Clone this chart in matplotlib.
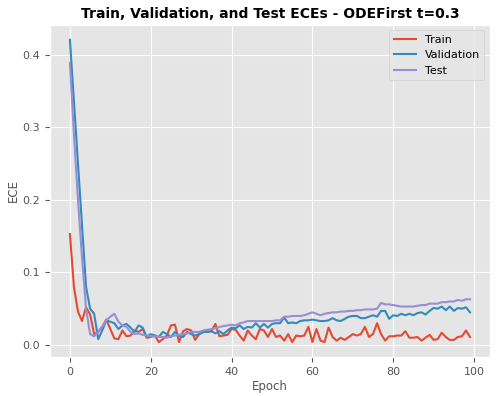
import numpy as np
import matplotlib
matplotlib.use('Agg')
from matplotlib import pyplot as plt

plt.style.use('ggplot')

epochs = np.arange(100)

train_ece = [
    0.153, 0.080, 0.046, 0.033, 0.052, 0.042, 0.015, 0.018, 0.025, 0.035,
    0.022, 0.009, 0.008, 0.020, 0.012, 0.013, 0.020, 0.018, 0.022, 0.010,
    0.011, 0.013, 0.004, 0.008, 0.013, 0.027, 0.028, 0.004, 0.019, 0.022,
    0.020, 0.007, 0.015, 0.018, 0.018, 0.019, 0.029, 0.012, 0.013, 0.014,
    0.022, 0.021, 0.013, 0.006, 0.020, 0.013, 0.008, 0.022, 0.020, 0.011,
    0.022, 0.011, 0.013, 0.006, 0.015, 0.004, 0.013, 0.012, 0.013, 0.025,
    0.004, 0.022, 0.006, 0.004, 0.024, 0.011, 0.006, 0.010, 0.007, 0.011,
    0.015, 0.013, 0.015, 0.025, 0.011, 0.015, 0.030, 0.015, 0.006, 0.012,
    0.012, 0.013, 0.013, 0.019, 0.010, 0.010, 0.011, 0.006, 0.010, 0.014,
    0.007, 0.008, 0.017, 0.011, 0.007, 0.007, 0.011, 0.012, 0.020, 0.011,
]

val_ece = [
    0.421, 0.336, 0.250, 0.165, 0.080, 0.050, 0.043, 0.008, 0.020, 0.034,
    0.032, 0.030, 0.022, 0.027, 0.029, 0.024, 0.018, 0.027, 0.024, 0.011,
    0.015, 0.013, 0.011, 0.018, 0.015, 0.011, 0.018, 0.013, 0.011, 0.018,
    0.015, 0.013, 0.015, 0.018, 0.018, 0.019, 0.016, 0.019, 0.015, 0.020,
    0.024, 0.023, 0.027, 0.022, 0.025, 0.024, 0.030, 0.024, 0.029, 0.024,
    0.029, 0.030, 0.030, 0.038, 0.030, 0.031, 0.030, 0.033, 0.034, 0.034,
    0.035, 0.034, 0.033, 0.033, 0.034, 0.037, 0.034, 0.033, 0.036, 0.039,
    0.040, 0.040, 0.037, 0.037, 0.039, 0.041, 0.039, 0.047, 0.047, 0.036,
    0.041, 0.040, 0.043, 0.041, 0.043, 0.041, 0.044, 0.045, 0.042, 0.047,
    0.051, 0.050, 0.053, 0.048, 0.053, 0.047, 0.051, 0.050, 0.052, 0.045,
]

test_ece = [
    0.389, 0.290, 0.200, 0.120, 0.050, 0.015, 0.012, 0.018, 0.025, 0.034,
    0.039, 0.043, 0.032, 0.027, 0.025, 0.018, 0.015, 0.016, 0.014, 0.013,
    0.012, 0.012, 0.011, 0.011, 0.010, 0.012, 0.013, 0.014, 0.015, 0.016,
    0.018, 0.018, 0.018, 0.020, 0.021, 0.022, 0.023, 0.025, 0.026, 0.027,
    0.028, 0.027, 0.030, 0.031, 0.033, 0.033, 0.033, 0.033, 0.033, 0.033,
    0.033, 0.034, 0.034, 0.039, 0.039, 0.040, 0.040, 0.040, 0.041, 0.043,
    0.045, 0.043, 0.041, 0.043, 0.044, 0.045, 0.045, 0.046, 0.046, 0.047,
    0.047, 0.048, 0.048, 0.049, 0.049, 0.049, 0.050, 0.058, 0.056, 0.056,
    0.055, 0.054, 0.053, 0.053, 0.053, 0.053, 0.054, 0.055, 0.055, 0.057,
    0.057, 0.057, 0.059, 0.059, 0.060, 0.060, 0.062, 0.061, 0.063, 0.063,
]

fig = plt.figure(figsize=(4.99, 3.96), dpi=100)
ax = fig.add_axes([0.100, 0.098, 0.882, 0.840])

ax.plot(epochs, train_ece, label='Train')
ax.plot(epochs, val_ece, label='Validation')
ax.plot(epochs, test_ece, label='Test')

ax.set_xlabel('Epoch', fontsize=8.5, labelpad=2)
ax.set_ylabel('ECE', fontsize=8.5, labelpad=2)
ax.tick_params(labelsize=8)
ax.set_title('Train, Validation, and Test ECEs - ODEFirst t=0.3', fontsize=10, fontweight='bold', pad=5)
ax.legend(fontsize=8)

plt.savefig('out.png', dpi=100)
